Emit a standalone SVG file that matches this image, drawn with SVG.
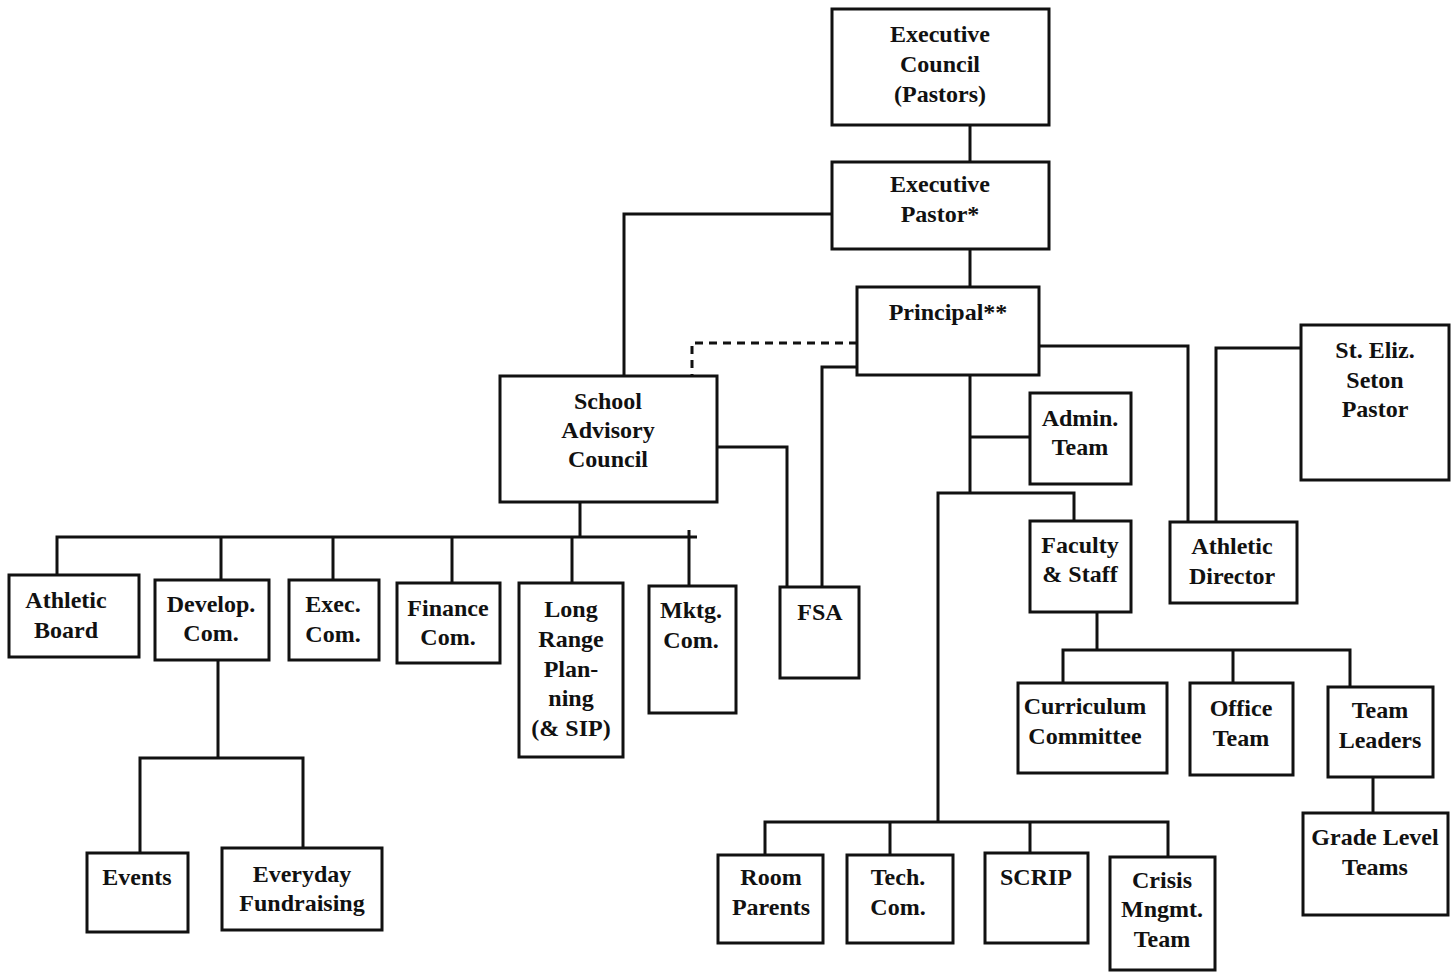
<svg xmlns="http://www.w3.org/2000/svg" width="1455" height="973" viewBox="0 0 1455 973">
<style>
rect.box{fill:#fff;stroke:#111;stroke-width:3}
.c path,.c line{fill:none;stroke:#111;stroke-width:3}
.c .dash{stroke-dasharray:8 6}
text{font-family:"Liberation Serif","Times New Roman",serif;font-weight:bold;font-size:24px;fill:#111;text-anchor:middle}
</style>
<rect width="1455" height="973" fill="#fff"/>
<g class="c" id="connectors">
<line x1="970" y1="125" x2="970" y2="162"/>
<line x1="970" y1="249" x2="970" y2="287"/>
<path d="M832 214 H624 V376"/>
<path class="dash" d="M857 343 H692 V376"/>
<path d="M717 447 H787 V587"/>
<path d="M857 367 H822 V587"/>
<path d="M580 502 V537"/>
<path d="M57 575 V537 H697"/>
<line x1="689" y1="530" x2="689" y2="586"/>
<line x1="221" y1="537" x2="221" y2="580"/>
<line x1="333" y1="537" x2="333" y2="580"/>
<line x1="452" y1="537" x2="452" y2="583"/>
<line x1="572" y1="537" x2="572" y2="583"/>
<path d="M218 660 V758"/>
<path d="M140 853 V758 H303 V848"/>
<path d="M1039 346 H1188 V522"/>
<path d="M1301 348 H1216 V522"/>
<path d="M970 375 V493"/>
<line x1="970" y1="437" x2="1030" y2="437"/>
<path d="M938 822 V493 H1074 V521"/>
<path d="M1097 612 V650"/>
<path d="M1063 683 V650 H1350 V687"/>
<line x1="1233" y1="650" x2="1233" y2="683"/>
<line x1="1373" y1="777" x2="1373" y2="813"/>
<path d="M765 855 V822 H1168 V857"/>
<line x1="890" y1="822" x2="890" y2="855"/>
<line x1="1030" y1="822" x2="1030" y2="853"/>
</g>
<g id="exec-council"><rect class="box" x="832" y="9" width="217" height="116"/><text x="940" y="42">Executive</text><text x="940" y="72">Council</text><text x="940" y="102">(Pastors)</text></g>
<g id="exec-pastor"><rect class="box" x="832" y="162" width="217" height="87"/><text x="940" y="192">Executive</text><text x="940" y="222">Pastor*</text></g>
<g id="principal"><rect class="box" x="857" y="287" width="182" height="88"/><text x="948" y="320">Principal**</text></g>
<g id="sac"><rect class="box" x="500" y="376" width="217" height="126"/><text x="608" y="409">School</text><text x="608" y="438">Advisory</text><text x="608" y="467">Council</text></g>
<g id="athletic-board"><rect class="box" x="9" y="575" width="130" height="82"/><text x="66" y="608">Athletic</text><text x="66" y="638">Board</text></g>
<g id="develop-com"><rect class="box" x="155" y="580" width="114" height="80"/><text x="211" y="612">Develop.</text><text x="211" y="641">Com.</text></g>
<g id="exec-com"><rect class="box" x="289" y="580" width="90" height="80"/><text x="333" y="612">Exec.</text><text x="333" y="642">Com.</text></g>
<g id="finance-com"><rect class="box" x="397" y="583" width="103" height="80"/><text x="448" y="616">Finance</text><text x="448" y="645">Com.</text></g>
<g id="long-range"><rect class="box" x="519" y="583" width="104" height="174"/><text x="571" y="617">Long</text><text x="571" y="647">Range</text><text x="571" y="677">Plan-</text><text x="571" y="706">ning</text><text x="571" y="736">(&amp; SIP)</text></g>
<g id="mktg-com"><rect class="box" x="649" y="586" width="87" height="127"/><text x="691" y="618">Mktg.</text><text x="691" y="648">Com.</text></g>
<g id="fsa"><rect class="box" x="780" y="587" width="79" height="91"/><text x="820" y="620">FSA</text></g>
<g id="events"><rect class="box" x="87" y="853" width="101" height="79"/><text x="137" y="885">Events</text></g>
<g id="everyday"><rect class="box" x="222" y="848" width="160" height="82"/><text x="302" y="882">Everyday</text><text x="302" y="911">Fundraising</text></g>
<g id="admin-team"><rect class="box" x="1030" y="393" width="101" height="91"/><text x="1080" y="426">Admin.</text><text x="1080" y="455">Team</text></g>
<g id="faculty"><rect class="box" x="1030" y="521" width="101" height="91"/><text x="1080" y="553">Faculty</text><text x="1080" y="582">&amp; Staff</text></g>
<g id="athletic-director"><rect class="box" x="1170" y="522" width="127" height="81"/><text x="1232" y="554">Athletic</text><text x="1232" y="584">Director</text></g>
<g id="st-eliz"><rect class="box" x="1301" y="325" width="148" height="155"/><text x="1375" y="358">St. Eliz.</text><text x="1375" y="388">Seton</text><text x="1375" y="417">Pastor</text></g>
<g id="curriculum"><rect class="box" x="1018" y="683" width="149" height="90"/><text x="1085" y="714">Curriculum</text><text x="1085" y="744">Committee</text></g>
<g id="office-team"><rect class="box" x="1190" y="683" width="103" height="92"/><text x="1241" y="716">Office</text><text x="1241" y="746">Team</text></g>
<g id="team-leaders"><rect class="box" x="1328" y="687" width="105" height="90"/><text x="1380" y="718">Team</text><text x="1380" y="748">Leaders</text></g>
<g id="grade-level"><rect class="box" x="1303" y="813" width="145" height="102"/><text x="1375" y="845">Grade Level</text><text x="1375" y="875">Teams</text></g>
<g id="room-parents"><rect class="box" x="718" y="855" width="105" height="88"/><text x="771" y="885">Room</text><text x="771" y="915">Parents</text></g>
<g id="tech-com"><rect class="box" x="847" y="855" width="106" height="88"/><text x="898" y="885">Tech.</text><text x="898" y="915">Com.</text></g>
<g id="scrip"><rect class="box" x="985" y="853" width="103" height="90"/><text x="1036" y="885">SCRIP</text></g>
<g id="crisis"><rect class="box" x="1110" y="857" width="105" height="113"/><text x="1162" y="888">Crisis</text><text x="1162" y="917">Mngmt.</text><text x="1162" y="947">Team</text></g>
</svg>
